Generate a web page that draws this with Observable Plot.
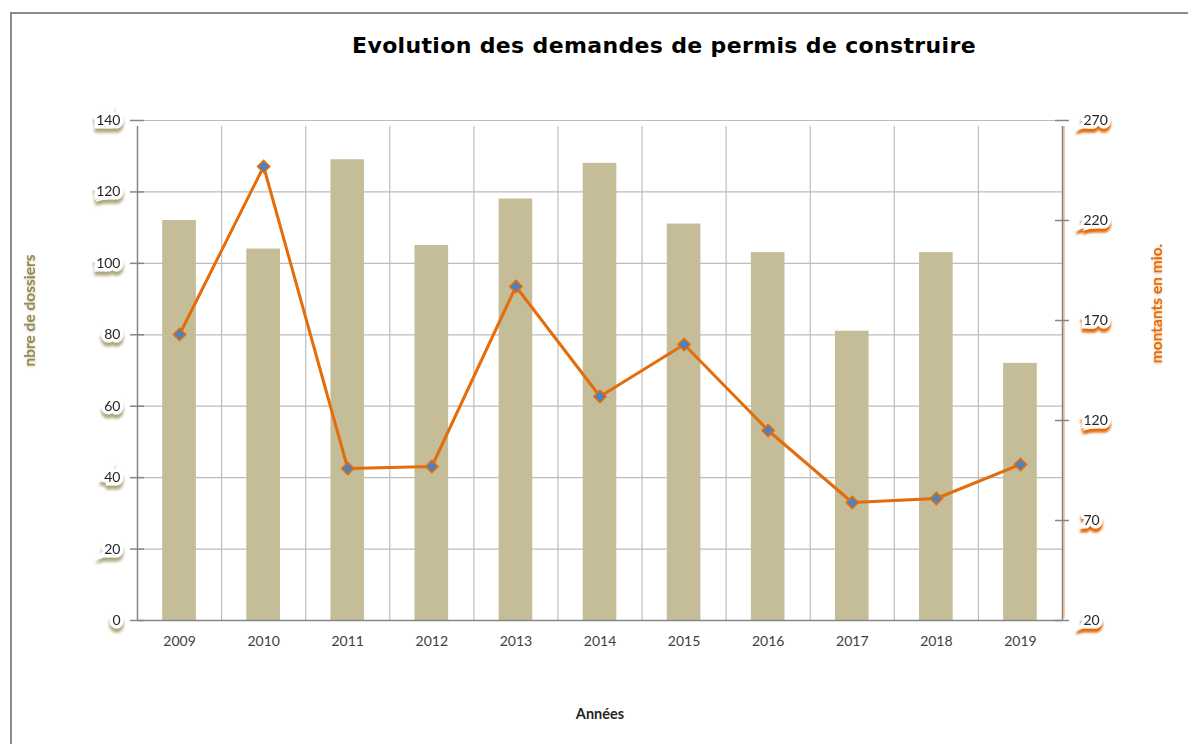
<!DOCTYPE html>
<html>
<head>
<meta charset="utf-8">
<script src="https://cdn.jsdelivr.net/npm/d3@7"></script>
<script src="https://cdn.jsdelivr.net/npm/@observablehq/plot@0.6"></script>
<style>
  html, body { margin: 0; padding: 0; background: #fff; }
  #wrap { position: relative; width: 1188px; height: 744px; overflow: hidden; }
  #frame { position: absolute; left: 10px; top: 12px; width: 1200px; height: 760px;
           border-left: 2px solid #8c8c8c; border-top: 2px solid #8c8c8c; box-sizing: border-box; }
  #title { position: absolute; left: 664px; top: 33px; transform: translateX(-50%);
           font-family: "DejaVu Sans", sans-serif; font-weight: bold; font-size: 22px; letter-spacing: 0.35px;
           color: #000; white-space: nowrap; }
  #chart { position: absolute; left: 0; top: 0; }
  .shadow-left { filter: drop-shadow(0px 4px 1.5px rgba(160,150,100,0.85)); }
  .shadow-right { filter: drop-shadow(0px 4px 1px rgba(228,108,10,1)); }
  .title-left { filter: drop-shadow(0px 1px 1px rgba(160,150,100,0.5)); }
  .title-right { filter: drop-shadow(0px 1px 1px rgba(228,108,10,0.5)); }
</style>
</head>
<body>
<div id="wrap">
  <div id="frame"></div>
  <div id="chart"></div>
  <div id="title">Evolution des demandes de permis de construire</div>
</div>
<script>
const years = [2009, 2010, 2011, 2012, 2013, 2014, 2015, 2016, 2017, 2018, 2019];
const dossiers = [112, 104, 129, 105, 118, 128, 111, 103, 81, 103, 72];
const montants = [163, 247, 96, 97, 187, 132, 158, 115, 79, 81, 98];
const leftTicks = [0, 20, 40, 60, 80, 100, 120, 140];
const rightTicks = [20, 70, 120, 170, 220, 270];

const leftMax = 140, rightMin = 20, rightMax = 270;
const toLeft = v => (v - rightMin) * leftMax / (rightMax - rightMin);

const data = years.map((year, i) => ({ year, dossiers: dossiers[i], montants: montants[i] }));
const xMin = years[0] - 0.5, xMax = years[years.length - 1] + 0.5;
const font = "Lato, 'Open Sans', sans-serif";

const chart = Plot.plot({
  width: 1188,
  height: 744,
  marginLeft: 137,
  marginRight: 126,
  marginTop: 120,
  marginBottom: 124,
  x: { type: "linear", domain: [xMin, xMax], axis: null },
  y: { domain: [0, leftMax], axis: null },
  style: { fontFamily: font, background: "transparent" },
  marks: [
    // horizontal gridlines
    Plot.ruleY(leftTicks, { y: d => d, stroke: "#bdbdbd", strokeWidth: 1.2 }),
    // vertical gridlines between years
    Plot.ruleX(years.slice(0, -1), { x: d => d + 0.5, y1: 0, y2: leftMax, stroke: "#bdbdbd", strokeWidth: 1.2, insetBottom: -6 }),
    // bars
    Plot.rectY(data, { x1: d => d.year - 0.2, x2: d => d.year + 0.2, y1: 0, y2: "dossiers", fill: "#c4bd97" }),
    // orange glow near right axis
    Plot.ruleX([xMax], { y1: 0, y2: leftMax, stroke: "#f5b27a", strokeWidth: 3, dx: 1, insetBottom: -6, insetTop: -2, strokeOpacity: 0.7 }),
    // axes lines
    Plot.ruleX([xMin], { y1: 0, y2: leftMax, stroke: "#868686", strokeWidth: 1.5, insetBottom: -6 }),
    Plot.ruleX([xMax], { y1: 0, y2: leftMax, stroke: "#868686", strokeWidth: 1.5, insetBottom: -6 }),
    Plot.ruleY([0], { stroke: "#868686", strokeWidth: 1.5 }),
    // left ticks
    Plot.ruleY(leftTicks, { y: d => d, x1: xMin, x2: xMin, insetLeft: -7, insetRight: -7, stroke: "#868686", strokeWidth: 1.5 }),
    // right ticks
    Plot.ruleY(rightTicks, { y: d => toLeft(d), x1: xMax, x2: xMax, insetLeft: -7, insetRight: -7, stroke: "#868686", strokeWidth: 1.5 }),
    // left tick labels
    Plot.text(leftTicks, {
      x: xMin, y: d => d, text: d => String(d), textAnchor: "end", dx: -17,
      fontSize: 14, fill: "#262626", stroke: "#fff", strokeWidth: 7, strokeLinejoin: "miter",
      className: "shadow-left"
    }),
    // right tick labels
    Plot.text(rightTicks, {
      x: xMax, y: d => toLeft(d), text: d => String(d), textAnchor: "start", dx: 21,
      fontSize: 14, fill: "#262626", stroke: "#fff", strokeWidth: 7, strokeLinejoin: "miter",
      className: "shadow-right"
    }),
    // year labels
    Plot.text(years, { x: d => d, y: 0, text: d => String(d), dy: 21, fontSize: 14, fill: "#404040" }),
    // line
    Plot.line(data, { x: "year", y: d => toLeft(d.montants), stroke: "#e46c0a", strokeWidth: 3 }),
    Plot.dot(data, { x: "year", y: d => toLeft(d.montants), symbol: "diamond2", r: 5.5, fill: "#4f81bd", stroke: "#e46c0a", strokeWidth: 1.5 }),
    // axis titles
    Plot.text(["nbre de dossiers"], {
      frameAnchor: "left", textAnchor: "middle", text: d => d, rotate: -90, dx: -107, dy: -60,
      fontSize: 15.5, fontWeight: "bold", fill: "#948a54",
      className: "title-left"
    }),
    Plot.text(["montants en mio."], {
      frameAnchor: "right", textAnchor: "middle", text: d => d, rotate: -90, dx: 95, dy: -67,
      fontSize: 15.5, fontWeight: "bold", fill: "#e46c0a",
      className: "title-right"
    }),
    Plot.text(["Années"], {
      frameAnchor: "bottom", text: d => d, dy: 98, fontSize: 14.5, fontWeight: "bold", fill: "#262626"
    })
  ]
});
document.getElementById("chart").appendChild(chart);
</script>
</body>
</html>
